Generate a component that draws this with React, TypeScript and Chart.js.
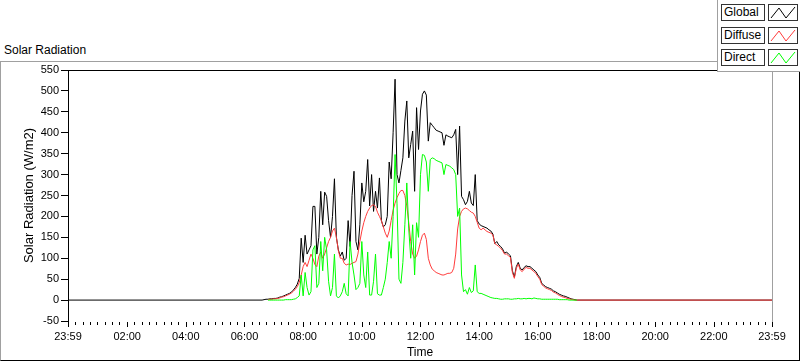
import React, { useEffect, useRef } from "react";
import { Chart, registerables } from "chart.js";
Chart.register(...registerables);

const FONT = "'Liberation Sans', Arial, sans-serif";

// x axis: minutes after 23:59 of previous day
const xTickLabels = ["23:59", "02:00", "04:00", "06:00", "08:00", "10:00", "12:00", "14:00", "16:00", "18:00", "20:00", "22:00", "23:59"];
const xTickMinutes = [0, 121, 241, 361, 481, 601, 721, 841, 961, 1081, 1201, 1321, 1440];

const seriesNames = ["Global", "Diffuse", "Direct"];
const seriesColors = ["#000000", "#ff3c3c", "#00ff00"];

// samples every 4 minutes starting at 06:36
const sampleStart = "06:36";
const sampleStepMin = 4;

const globalW = [
  0, 1, 2, 2, 3, 3, 4, 4, 5, 7, 8, 10, 12, 14, 16, 19, 24, 30, 38, 52,
  148, 90, 155, 110, 120, 130, 224, 224, 110, 150, 260, 180, 258, 248, 190, 150, 200, 290, 150, 120, 105,
  115, 95, 100, 190, 128, 250, 308, 140, 120, 180, 280, 235, 260, 336, 225, 300, 212, 260, 220, 292,
  190, 175, 180, 200, 330, 290, 400, 528, 300, 280, 310, 340, 428, 476, 340, 372, 404, 260, 460, 360, 452, 492,
  500, 490, 380, 424, 418, 412, 406, 404, 402, 400, 370, 395, 392, 390, 388, 395, 408, 300, 416, 248,
  240, 228, 236, 260, 232, 226, 300, 190, 182, 178, 176, 174, 172, 168, 165, 158, 135, 140, 132, 128, 122, 112,
  115, 110, 106, 70, 55, 80, 90, 76, 72, 78, 82, 80, 80, 76, 72, 68, 60, 54, 40, 36,
  32, 30, 28, 26, 22, 20, 17, 14, 12, 10, 9, 7, 5, 3, 2, 1, 0,
];

const diffuseW = [
  null, null, null, 1, 2, 2, 3, 3, 4, 5, 7, 8, 10, 12, 14, 17, 21, 26, 32, 42,
  60, 80, 90, 80, 95, 110, 100, 85, 80, 105, 115, 100, 110, 125, 140, 150, 165, 172, 150, 118, 100,
  100, 88, 84, 86, 85, 88, 90, 92, 110, 140, 165, 185, 200, 212, 220, 226, 228, 224, 210, 200,
  190, 175, 160, 150, 165, 190, 215, 232, 245, 255, 262, 262, 250, 225, 185, 140, 110, 100, 105, 120, 140, 155,
  160, 145, 100, 84, 74, 70, 66, 64, 62, 60, 60, 62, 64, 64, 66, 76, 110, 170, 200, 212,
  218, 220, 218, 214, 210, 208, 200, 186, 172, 168, 172, 168, 164, 162, 160, 156, 135, 132, 128, 124, 118, 110,
  110, 106, 102, 66, 52, 76, 86, 72, 68, 74, 78, 76, 76, 72, 68, 64, 56, 50, 37, 33,
  29, 27, 25, 23, 19, 17, 14, 11, 9, 7, 6, 4, 3, 2, 1, 0, 0,
];

const directW = [
  null, null, null, 0, 0, 0, 0, 0, 0, 0, 0, 0, 1, 1, 1, 1, 2, 3, 6, 10,
  60, 10, 66, 30, 12, 20, 120, 130, 30, 40, 140, 70, 150, 120, 45, 10, 30, 110, 10, 5, 10,
  20, 40, 15, 10, 140, 90, 60, 25, 30, 40, 140, 60, 30, 115, 12, 12, 45, 110, 15, 12,
  12, 30, 50, 90, 140, 100, 200, 348, 230, 50, 40, 90, 180, 280, 170, 100, 180, 60, 185, 150, 300, 348,
  346, 330, 260, 336, 340, 338, 334, 332, 330, 328, 300, 324, 322, 320, 316, 312, 300, 200, 220, 60,
  20, 25, 14, 30, 18, 22, 84, 20, 16, 16, 14, 12, 10, 8, 6, 5, 4, 4, 3, 2, 2, 3,
  3, 3, 2, 2, 3, 3, 4, 3, 3, 4, 3, 4, 4, 3, 5, 4, 3, 3, 2, 2,
  2, 2, 2, 2, 2, 2, 2, 1, 1, 1, 1, 1, 0, 0, 0, 0, 0,
];

const framePlugin = {
  id: "labviewFrame",
  afterDraw(chart: any) {
    const { ctx, chartArea: a, scales } = chart;
    const x = scales.x;
    ctx.save();
    ctx.lineWidth = 1;
    ctx.strokeStyle = "#000";
    ctx.beginPath();
    ctx.moveTo(a.left, Math.round(a.top) + 0.5);
    ctx.lineTo(a.right, Math.round(a.top) + 0.5);
    ctx.stroke();
    ctx.strokeStyle = "#a0a0a0";
    ctx.beginPath();
    ctx.moveTo(Math.round(a.right) + 0.5, a.top);
    ctx.lineTo(Math.round(a.right) + 0.5, a.bottom + 6);
    ctx.stroke();
    ctx.strokeStyle = "#000";
    for (let i = 0; i < xTickMinutes.length; i++) {
      const px = Math.round(x.getPixelForValue(xTickMinutes[i])) + 0.5;
      ctx.beginPath();
      ctx.moveTo(px, a.bottom + 1);
      ctx.lineTo(px, a.bottom + 6);
      ctx.stroke();
      if (i < xTickMinutes.length - 1) {
        for (let m = xTickMinutes[i] + 15; m < xTickMinutes[i + 1] - 5; m += 15) {
          const mx = Math.round(x.getPixelForValue(m)) + 0.5;
          ctx.beginPath();
          ctx.moveTo(mx, a.bottom + 1);
          ctx.lineTo(mx, a.bottom + 4);
          ctx.stroke();
        }
      }
    }
    ctx.restore();
  },
};

function toMinutesAfterStart(s: string) {
  const [h, m] = s.split(":").map(Number);
  return h * 60 + m + 1;
}

export default function App() {
  const ref = useRef<HTMLCanvasElement>(null);
  useEffect(() => {
    if (!ref.current) return;
    const start = toMinutesAfterStart(sampleStart);
    const pts = (vals: (number | null)[]) => vals.map((v, i) => ({ x: start + i * sampleStepMin, y: v }));
    const globalPts = [{ x: 0, y: 0 }, ...pts(globalW), { x: 1440, y: 0 }];
    const diffusePts = [...pts(diffuseW), { x: 1440, y: 0 }];
    const directPts = pts(directW);
    const mk = (label: string, data: any, color: string, order: number) => ({
      label,
      data,
      borderColor: color,
      backgroundColor: color,
      borderWidth: 1,
      pointRadius: 0,
      tension: 0,
      fill: false,
      spanGaps: false,
      order,
    });
    const chart = new Chart(ref.current, {
      type: "line",
      data: {
        datasets: [
          mk(seriesNames[0], globalPts, seriesColors[0], 2),
          mk(seriesNames[1], diffusePts, seriesColors[1], 1),
          mk(seriesNames[2], directPts, seriesColors[2], 0),
        ],
      },
      options: {
        animation: false,
        responsive: true,
        maintainAspectRatio: false,
        parsing: true,
        layout: { padding: { left: 0, right: 28, top: 70, bottom: 0 } },
        plugins: { legend: { display: false }, tooltip: { enabled: false }, title: { display: false } },
        scales: {
          x: {
            type: "linear",
            min: 0,
            max: 1440,
            afterFit: (s: any) => {
              s.height = 40;
            },
            afterBuildTicks: (s: any) => {
              s.ticks = xTickMinutes.map((v) => ({ value: v }));
            },
            grid: { display: false, drawTicks: false },
            border: { display: false },
            ticks: {
              autoSkip: false,
              maxRotation: 0,
              padding: 9,
              color: "#000",
              font: { family: FONT, size: 11 },
              callback: (v: any) => {
                const i = xTickMinutes.indexOf(Number(v));
                return i >= 0 ? xTickLabels[i] : "";
              },
            },
            title: {
              display: true,
              text: "Time",
              color: "#000",
              font: { family: FONT, size: 12 },
              padding: { top: 0, bottom: 1 },
            },
          },
          y: {
            type: "linear",
            min: -50,
            max: 550,
            afterFit: (s: any) => {
              s.width = 68;
            },
            grid: { display: true, drawOnChartArea: false, drawTicks: true, tickLength: 7, color: "#000", lineWidth: 1 },
            border: { display: true, color: "#000", width: 1 },
            ticks: {
              stepSize: 50,
              padding: 2,
              color: "#000",
              font: { family: FONT, size: 11 },
            },
            title: {
              display: true,
              text: "Solar Radiation (W/m2)",
              color: "#000",
              font: { family: FONT, size: 13 },
              padding: { top: 22, bottom: 0 },
            },
          },
        },
      },
      plugins: [framePlugin],
    });
    return () => chart.destroy();
  }, []);

  const rowTops = [4, 27, 49];
  return (
    <div style={{ position: "fixed", left: 0, top: 0, width: 800, height: 361, background: "#fff", fontFamily: FONT, overflow: "hidden" }}>
      <div
        style={{
          position: "absolute",
          left: 0,
          top: 61,
          width: 800,
          height: 300,
          boxSizing: "border-box",
          borderTop: "1px solid #a0a0a0",
          borderLeft: "1px solid #a0a0a0",
          borderRight: "1px solid #000",
          borderBottom: "1px solid #000",
        }}
      />
      <div style={{ position: "absolute", left: 4, top: 43, fontSize: 12, lineHeight: "14px", color: "#000", whiteSpace: "nowrap" }}>
        Solar Radiation
      </div>
      <div style={{ position: "absolute", left: 0, top: 0, width: 800, height: 361 }}>
        <canvas ref={ref} />
      </div>
      <div
        style={{
          position: "absolute",
          left: 717,
          top: 0,
          width: 83,
          height: 72,
          background: "#fff",
          boxSizing: "border-box",
          borderLeft: "1px solid #a0a0a0",
          borderBottom: "1px solid #a0a0a0",
        }}
      >
        {seriesNames.map((name, i) => (
          <React.Fragment key={name}>
            <div
              style={{
                position: "absolute",
                left: 3,
                top: rowTops[i],
                width: 44,
                height: 17,
                boxSizing: "border-box",
                border: "1px solid #333",
                background: "#fff",
                fontSize: 12,
                lineHeight: "15px",
                paddingLeft: 2,
                color: "#000",
                whiteSpace: "nowrap",
              }}
            >
              {name}
            </div>
            <div
              style={{
                position: "absolute",
                left: 50,
                top: rowTops[i],
                width: 30,
                height: 17,
                boxSizing: "border-box",
                border: "1px solid #333",
                background: "#fff",
              }}
            >
              <svg width={28} height={15} style={{ position: "absolute", left: 0, top: 0 }}>
                <polyline points="2,13 10,3 17,13 26,2" fill="none" stroke={seriesColors[i]} strokeWidth={1} />
              </svg>
            </div>
          </React.Fragment>
        ))}
      </div>
    </div>
  );
}
